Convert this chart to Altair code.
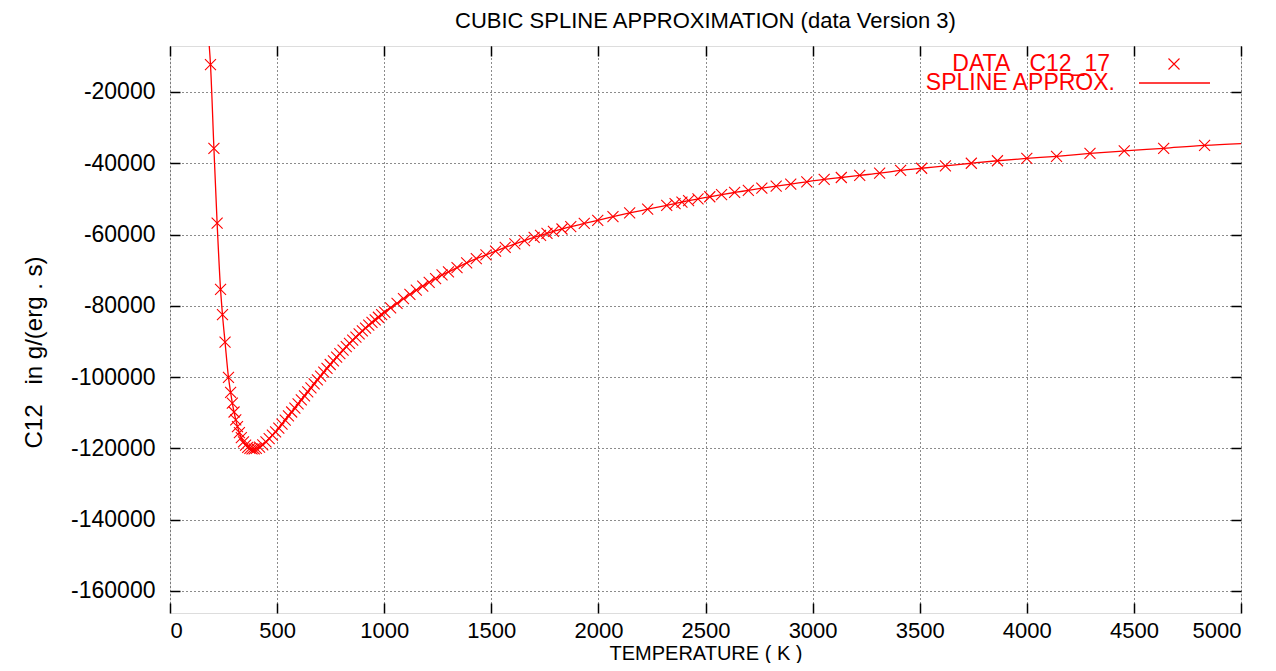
import altair as alt
import pandas as pd

# ---------------- data ----------------
temperature = [189, 205, 220, 236, 245, 257, 273,
               283, 291, 299, 307, 315, 324, 333, 343, 353, 363, 373, 383, 393, 403,
               418, 433, 448, 463, 478, 493, 508, 523, 538, 553, 568, 583, 598, 613, 628,
               643, 658, 673, 688, 703, 718, 733, 748, 763, 778, 793, 808, 823, 838, 853,
               868, 883, 898, 913, 928, 943, 958, 973, 988, 1003,
               1030, 1060, 1090, 1120, 1150, 1180, 1210, 1240, 1270, 1300,
               1340, 1385, 1430, 1475, 1520, 1565, 1610, 1655, 1700, 1730, 1760, 1790, 1830,
               1871, 1934, 1997, 2068, 2146, 2230, 2319,
               2358, 2390, 2421, 2465, 2520, 2575, 2636, 2700, 2763,
               2830, 2898, 2973, 3054, 3134, 3220, 3313, 3411, 3509, 3620, 3741, 3863,
               4000, 4139, 4295, 4455, 4639, 4830]

c12 = [-12300, -35800, -56800, -75400, -82500, -90200, -100100,
       -104300, -107300, -109800, -112000, -113900, -115600, -117000, -118200, -119100,
       -119700, -120000, -120150, -120150, -120000,
       -119650, -119000, -118200, -117300, -116300, -115400, -114300, -113200, -112050,
       -110900, -109800, -108700, -107550, -106400, -105300, -104150, -103050, -101900,
       -100800, -99730, -98620, -97530, -96470, -95430, -94410, -93410, -92440, -91480,
       -90550, -89650, -88770, -87900, -87060, -86250, -85450, -84680, -83930, -83210,
       -82500, -81820,
       -80600, -79300, -78000, -76800, -75600, -74500, -73400, -72350, -71350, -70500,
       -69300, -67950, -66750, -65700, -64650, -63600, -62650, -61700, -60800, -60250,
       -59650, -59100, -58450,
       -57800, -56900, -56000, -55000, -53950, -52900, -51800,
       -51300, -50900, -50500, -50000, -49400, -48800, -48200, -47600, -47000,
       -46400, -45850, -45200, -44550, -44000, -43400, -42800, -42000, -41400, -40750,
       -40000, -39300, -38650, -38050, -37250, -36550, -35800, -35000]

# spline curve runs a little beyond the first and last data points
spline_ends_t = [180, 5000]
spline_ends_c = [-4500, -34500]

x_ticks = [0, 500, 1000, 1500, 2000, 2500, 3000, 3500, 4000, 4500, 5000]
y_ticks = [-160000, -140000, -120000, -100000, -80000, -60000, -40000, -20000]
x_domain = [0, 5000]
y_domain = [-166200, -7100]

legend_labels = ["DATA\u00a0\u00a0\u00a0C12_17", "SPLINE APPROX."]
title_text = "CUBIC SPLINE APPROXIMATION (data Version 3)"
x_title = "TEMPERATURE ( K )"
y_title = "C12\u00a0\u00a0\u00a0in g/(erg . s)"

# ---------------- tables ----------------
data_df = pd.DataFrame({"T": temperature, "C": c12})
spline_df = pd.DataFrame({
    "T": [spline_ends_t[0]] + temperature + [spline_ends_t[1]],
    "C": [spline_ends_c[0]] + c12 + [spline_ends_c[1]],
})

W, H = 1071, 567
FONT = "Liberation Sans"
RED = "#ff0000"
XPATH = "M-1,-1L1,1M-1,1L1,-1"
HYPHEN_LABEL = "datum.value < 0 ? '-' + format(-datum.value, 'd') : format(datum.value, 'd')"

xs = alt.Scale(domain=x_domain, nice=False, zero=False)
ys = alt.Scale(domain=y_domain, nice=False, zero=False)

common_axis = dict(
    domain=False, tickSize=10, offset=-10, tickColor="black", tickWidth=1.5,
    labelFont=FONT, labelColor="black",
    titleFont=FONT, titleFontWeight="normal", titleColor="black",
    gridColor="black", gridDash=[1, 3], gridWidth=1, gridOpacity=0.9,
)

x_axis_bottom = alt.Axis(orient="bottom", values=x_ticks, labelExpr=HYPHEN_LABEL, grid=True,
                         labelFontSize=22, labelPadding=7, title=x_title, titleFontSize=20,
                         titleBaseline="alphabetic", titleY=56, **common_axis)
y_axis_left = alt.Axis(orient="left", values=y_ticks, labelExpr=HYPHEN_LABEL, grid=True,
                       labelFontSize=23, labelPadding=15, title=y_title, titleFontSize=24,
                       titleX=-134, titleY=306, **common_axis)
x_axis_top = alt.Axis(orient="top", values=x_ticks, labels=False, grid=False, title=None,
                      domain=False, tickSize=10, offset=-10, tickColor="black", tickWidth=1.5)
y_axis_right = alt.Axis(orient="right", values=y_ticks, labels=False, grid=False, title=None,
                        domain=False, tickSize=10, offset=-10, tickColor="black", tickWidth=1.5)

spline = alt.Chart(spline_df).mark_line(
    color=RED, strokeWidth=1.3, interpolate="monotone", clip=True
).encode(
    x=alt.X("T:Q", scale=xs, axis=x_axis_bottom),
    y=alt.Y("C:Q", scale=ys, axis=y_axis_left),
    order="T:Q",
)

points = alt.Chart(data_df).mark_point(
    shape=XPATH, size=121, filled=False, color=RED, strokeWidth=1.1, opacity=1, clip=True
).encode(
    x=alt.X("T:Q", scale=xs, axis=x_axis_top),
    y=alt.Y("C:Q", scale=ys, axis=y_axis_right),
)

leg_df = pd.DataFrame({"label": legend_labels})
leg_text1 = alt.Chart(leg_df.iloc[[0]]).mark_text(
    font=FONT, fontSize=23, color=RED, align="right", baseline="alphabetic"
).encode(text="label:N", x=alt.value(940), y=alt.value(25))
leg_text2 = alt.Chart(leg_df.iloc[[1]]).mark_text(
    font=FONT, fontSize=23, color=RED, align="right", baseline="alphabetic"
).encode(text="label:N", x=alt.value(945), y=alt.value(44))
leg_mark = alt.Chart(leg_df.iloc[[0]]).mark_point(
    shape=XPATH, size=121, filled=False, color=RED, strokeWidth=1.1, opacity=1
).encode(x=alt.value(1004), y=alt.value(18))
leg_line = alt.Chart(leg_df.iloc[[1]]).mark_rule(color=RED, strokeWidth=1.3).encode(
    x=alt.value(969), x2=alt.value(1040), y=alt.value(37)
)

chart = alt.layer(spline, points, leg_text1, leg_text2, leg_mark, leg_line).resolve_axis(
    x="independent", y="independent"
).properties(
    width=W, height=H,
    autosize=alt.AutoSizeParams(type="none"),
    padding={"left": 162, "top": 38, "right": 27, "bottom": 50},
    title=alt.TitleParams(title_text, font=FONT, fontSize=22, fontWeight="normal",
                          color="black", anchor="middle", offset=12.5),
).configure_view(stroke="black", strokeWidth=1.5).configure(background="white")

chart.save("out.html", embed_options={"renderer": "svg", "actions": False})
